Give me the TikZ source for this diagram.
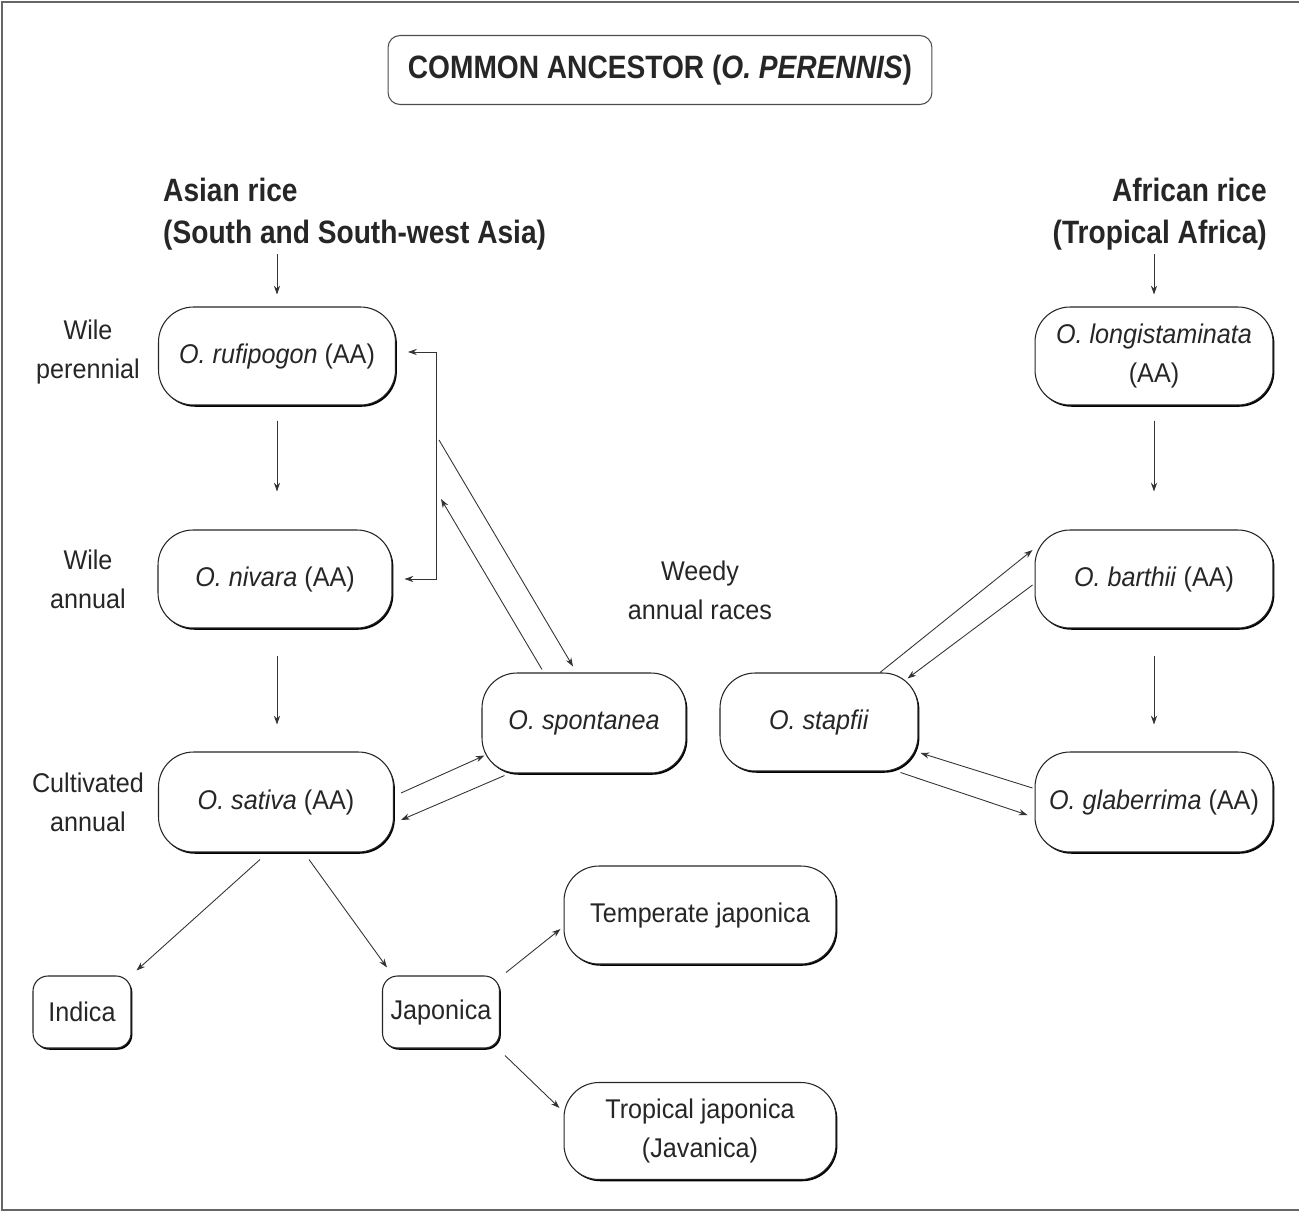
\documentclass[tikz,border=0pt]{standalone}
\usepackage{fontspec}
\setmainfont{Liberation Sans}[FakeStretch=0.93]
\newfontfamily\headfont{Liberation Sans}[FakeStretch=0.87]
\usetikzlibrary{arrows.meta,shadows}

\begin{document}
\begin{tikzpicture}[x=0.02cm,y=-0.02cm,
  box/.style={draw=black!85, line width=0.6pt, fill=white, rounded corners=0.7cm, align=center, inner sep=0pt, minimum height=1.96cm, font=\fontsize{15.4}{22}\selectfont, text=black!85, drop shadow={shadow xshift=0.8pt, shadow yshift=-1pt, fill=black, opacity=1}},
  smallbox/.style={box, rounded corners=0.3cm, minimum height=1.44cm},
  lbl/.style={align=center, font=\fontsize{15.4}{22}\selectfont, text=black!85},
  head/.style={font=\headfont\bfseries\fontsize{18.4}{24}\selectfont, text=black!85},
  arr/.style={-{Stealth[length=5pt,width=3.5pt]}, line width=0.5pt, draw=black!80}]
\useasboundingbox (0,0) rectangle (1299,1214);
% frame
\draw[gray!80!black, line width=1.6pt] (2,2) rectangle (1320,1210);
% title
\node[draw=black!70, line width=0.6pt, rounded corners=0.24cm, minimum width=10.88cm, minimum height=1.38cm, head] (anc) at (660,70) {COMMON ANCESTOR (\textit{O. PERENNIS})};
\node[head, align=left, anchor=west] (asian) at (157,214) {Asian rice\\(South and South-west Asia)};
\node[head, align=right, anchor=east] (african) at (1273,214) {African rice\\(Tropical Africa)};
% asian side
\node[box, minimum width=4.74cm] (rufi) at (277,356) {\textit{O. rufipogon} (AA)};
\node[box, minimum width=4.68cm] (niv) at (275,579) {\textit{O. nivara} (AA)};
\node[box, minimum width=4.7cm, minimum height=2cm] (sat) at (276,802) {\textit{O. sativa} (AA)};
\node[box, minimum width=4.08cm, minimum height=2cm] (spon) at (584,723) {\textit{O. spontanea}};
\node[lbl] (wp) at (88,352) {Wile\\perennial};
\node[lbl] (wa) at (88,579) {Wile\\annual};
\node[lbl] (ca) at (88,802) {Cultivated\\annual};
\node[lbl] (weedy) at (700,590) {Weedy\\annual races};
% african side
\node[box, minimum width=3.96cm] (stap) at (819,722) {\textit{O. stapfii}};
\node[box, minimum width=4.76cm] (longi) at (1154,356) {\textit{O. longistaminata}\\(AA)};
\node[box, minimum width=4.76cm] (bar) at (1154,579) {\textit{O. barthii} (AA)};
\node[box, minimum width=4.76cm, minimum height=2cm] (glab) at (1154,802) {\textit{O. glaberrima} (AA)};
% subgroups
\node[smallbox, minimum width=1.96cm] (ind) at (82,1012) {Indica};
\node[smallbox, minimum width=2.34cm] (jap) at (441,1012) {Japonica};
\node[box, minimum width=5.44cm] (temp) at (700,915) {Temperate japonica};
\node[box, minimum width=5.44cm, minimum height=1.94cm] (trop) at (700,1131) {Tropical japonica\\(Javanica)};
% vertical arrows
\draw[arr] ([yshift=0.04cm]rufi.north |- asian.south) -- ([yshift=0.24cm]rufi.north);
\draw[arr] ([yshift=0.04cm]longi.north |- african.south) -- ([yshift=0.24cm]longi.north);
\draw[arr, shorten <=0.3cm, shorten >=0.76cm] (rufi.south) -- (niv.north -| rufi.south);
\draw[arr, shorten <=0.54cm, shorten >=0.54cm] (niv.south -| rufi.south) -- (sat.north -| rufi.south);
\draw[arr, shorten <=0.3cm, shorten >=0.76cm] (longi.south) -- (bar.north);
\draw[arr, shorten <=0.54cm, shorten >=0.54cm] (bar.south) -- (glab.north);
% weedy links
\coordinate (brktop) at ([xshift=0.8cm,yshift=0.08cm]rufi.east);
\coordinate (brkbot) at (brktop |- niv.east);
\coordinate (d1) at (439,440);
\coordinate (d2) at (441,499);
\draw[{Stealth[length=5pt,width=3.5pt]}-{Stealth[length=5pt,width=3.5pt]}, line width=0.5pt, draw=black!80] ([xshift=0.24cm]rufi.east |- brktop) -- (brktop) -- (brkbot) -- ([xshift=0.24cm]niv.east);
\draw[arr] (d1) -- ([xshift=-0.22cm,yshift=0.12cm]spon.north);
\draw[arr] ([xshift=-0.84cm,yshift=0.06cm]spon.north) -- (d2);
\draw[arr] ([xshift=0.14cm,yshift=0.18cm]sat.east) -- ([xshift=0.06cm,yshift=0.36cm]spon.south west);
\draw[arr] ([xshift=0.46cm,yshift=-0.04cm]spon.south west) -- ([xshift=0.14cm,yshift=-0.36cm]sat.east);
\draw[arr] ([xshift=1.22cm]stap.north) -- ([xshift=-0.04cm,yshift=0.58cm]bar.west);
\draw[arr] ([xshift=-0.04cm,yshift=-0.12cm]bar.west) -- ([xshift=-0.22cm,yshift=-0.12cm]stap.north east);
\draw[arr] ([xshift=-0.04cm,yshift=0.28cm]glab.west) -- ([xshift=0.04cm,yshift=-0.62cm]stap.east);
\draw[arr] ([xshift=-0.36cm,yshift=-0.02cm]stap.south east) -- ([xshift=-0.14cm,yshift=-0.26cm]glab.west);
% splits
\draw[arr] ([xshift=-0.32cm,yshift=-0.14cm]sat.south) -- ([xshift=0.1cm,yshift=0.1cm]ind.north east);
\draw[arr] ([xshift=0.66cm,yshift=-0.14cm]sat.south) -- ([xshift=0.1cm,yshift=0.16cm]jap.north west);
\draw[arr] ([xshift=0.12cm,yshift=0.06cm]jap.north east) -- ([xshift=-0.06cm,yshift=-0.28cm]temp.west);
\draw[arr] ([xshift=0.1cm,yshift=-0.14cm]jap.south east) -- ([xshift=-0.08cm,yshift=0.46cm]trop.west);
\end{tikzpicture}
\end{document}
